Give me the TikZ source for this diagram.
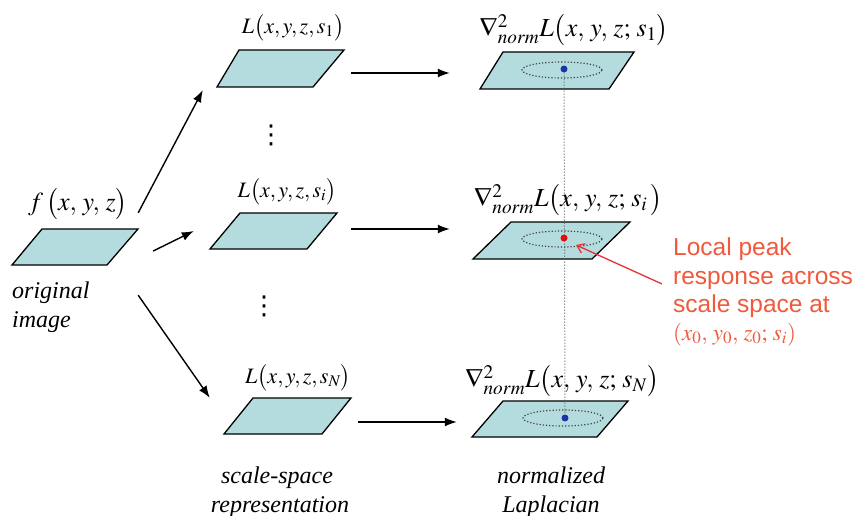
\documentclass[tikz,border=0pt]{standalone}
\usepackage{mathptmx}
\usepackage{fontspec}
\setmainfont{Liberation Serif}
\newfontfamily\sansf{Liberation Sans}
\newfontfamily\dejav{DejaVu Sans}
\usetikzlibrary{arrows.meta,shapes.geometric,fit}
\definecolor{paraC}{RGB}{180,220,222}
\definecolor{redT}{RGB}{240,90,60}
\definecolor{redA}{RGB}{230,50,55}
\definecolor{blueD}{RGB}{30,50,170}
\newcommand\para[7]{%
  \draw[parabox] (#2,#6) -- (#3,#6) -- (#5,#7) -- (#4,#7) -- cycle;
  \node[fit={(#4,#6) (#3,#7)}, inner sep=0pt] (#1) {};
}
\tikzset{
  parabox/.style={fill=paraC, draw=black, line width=1.3pt, line join=miter},
  arr/.style={-{Latex[length=12pt,width=9pt]}, line width=1.4pt},
  redarr/.style={-{Straight Barb[length=7pt,width=10pt]}, line width=1.3pt, draw=redA},
  labS/.style={inner sep=0pt, font=\fontsize{22}{26}\selectfont},
  labB/.style={inner sep=0pt, font=\fontsize{26}{30}\selectfont},
  itxt/.style={inner sep=0pt, font=\fontsize{24}{29}\selectfont\itshape},
  vdotsS/.style={inner sep=0pt, font=\dejav\fontsize{26}{30}\selectfont},
  ell/.style={ellipse, draw=black!75, dotted, line width=1.2pt, minimum width=80pt, minimum height=16pt, inner sep=0pt},
  dotB/.style={circle, fill=blueD, minimum size=7pt, inner sep=0pt},
  dotR/.style={circle, fill=red, minimum size=7pt, inner sep=0pt},
  vline/.style={draw=black!65, dotted, line width=1pt},
  redtxt/.style={inner sep=0pt, anchor=base west, text=redT, font=\sansf\fontsize{24.5}{29}\selectfont},
}
\begin{document}
\begin{tikzpicture}[x=1pt,y=-1pt]
\useasboundingbox (0,0) rectangle (860,516);
\fill[white] (0,0) rectangle (860,516);

% parallelograms
\para{O}{42}{138}{12}{107}{229}{265}
\para{L1}{239}{344}{217}{313}{50}{87}
\para{Li}{240}{337}{210}{307}{213}{249}
\para{LN}{253}{351}{224}{322}{398}{434}
\para{N1}{503}{634}{480}{609}{52}{89}
\para{Ni}{511}{630}{473}{592}{222}{259}
\para{NN}{503}{628}{472}{597}{401}{437}

% ellipses
\node[ell] (e1) at (562,70) {};
\node[ell] (ei) at (562,239) {};
\node[ell] (eN) at (563,418) {};

% dots
\node[dotB] (d1) at (564,69) {};
\node[dotR] (di) at (564,238) {};
\node[dotB] (dN) at (565,418) {};
\draw[vline] (d1) -- (dN);

% labels
\node[labB] (tf) at (78,204) {$f\,\bigl(x,\,y,\,z\bigr)$};
\node[itxt, anchor=base west] (to1) at (12,298) {original};
\node[itxt, anchor=base west] (to2) at (12,327) {image};
\node[labS] (tL1) at (293,28) {$L\bigl(x,y,z,s_1\bigr)$};
\node[labS] (tLi) at (287,192) {$L\bigl(x,y,z,s_i\bigr)$};
\node[labS] (tLN) at (298,378) {$L\bigl(x,y,z,s_N\bigr)$};
\node[vdotsS] (v1) at (271,135) {⋮};
\node[vdotsS] (v2) at (264,306) {⋮};
\node[itxt, anchor=base] (ts1) at (277,483) {scale-space};
\node[itxt, anchor=base] (ts2) at (280,512) {representation};
\node[labB] (tN1) at (574,30) {$\nabla^2_{norm}L\bigl(x,\,y,\,z;\,s_1\bigr)$};
\node[labB] (tNi) at (568,200) {$\nabla^2_{norm}L\bigl(x,\,y,\,z;\,s_i\,\bigr)$};
\node[labB] (tNN) at (562,381) {$\nabla^2_{norm}L\bigl(x,\,y,\,z;\,s_N\bigr)$};
\node[itxt, anchor=base] (tl1) at (551,483) {normalized};
\node[itxt, anchor=base] (tl2) at (551,512) {Laplacian};

% red annotation
\node[redtxt] (r1) at (673,255) {Local peak};
\node[redtxt] (r2) at (673,284) {response across};
\node[redtxt] (r3) at (673,312) {scale space at};
\node[inner sep=0pt, anchor=base west, text=redT, font=\fontsize{23}{26}\selectfont] (r4) at (673,340) {$(x_0,\,y_0,\,z_0;\,s_i)$};
\draw[redarr] ([shift={(-11pt,-4pt)}]r2.west) -- ([shift={(12pt,-7pt)}]di.center);

% arrows
\draw[arr] ([yshift=16pt]O.north east) -- ([shift={(-14pt,-3pt)}]L1.south west);
\draw[arr] ([shift={(15pt,-4pt)}]O.east) -- ([xshift=-16pt]Li.west);
\draw[arr] ([yshift=-30pt]O.south east) -- ([xshift=-14pt]LN.north west);
\draw[arr] ([shift={(7pt,-4.5pt)}]L1.east) -- ([shift={(-30pt,-2.5pt)}]N1.west);
\draw[arr] ([shift={(14pt,2pt)}]Li.east) -- ([shift={(-23pt,11.5pt)}]Ni.west);
\draw[arr] ([shift={(7pt,-6pt)}]LN.east) -- ([shift={(-15pt,-3pt)}]NN.west);
\end{tikzpicture}
\end{document}
